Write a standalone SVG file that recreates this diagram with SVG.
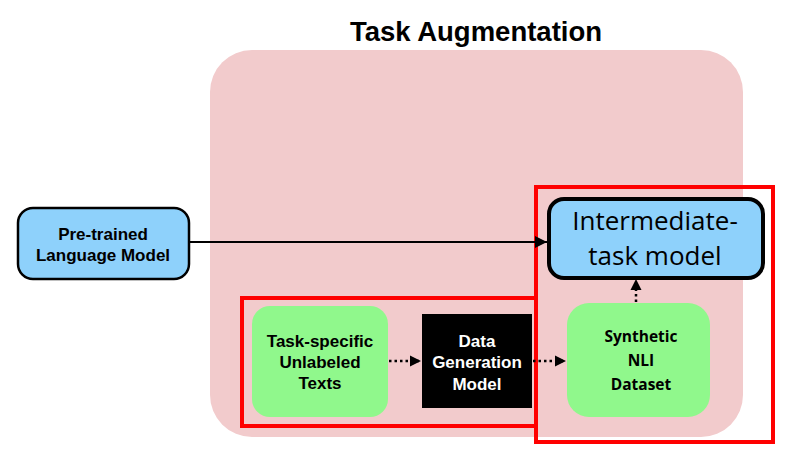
<svg xmlns="http://www.w3.org/2000/svg" width="791" height="453" viewBox="0 0 791 453">
<style>
.sans{font-family:"Liberation Sans",Arial,sans-serif}
.node-t{font-family:"Liberation Sans",Arial,sans-serif;font-size:17px;font-weight:bold;text-anchor:middle}
.cal{font-family:"Open Sans","Liberation Sans",sans-serif;text-anchor:middle}
.green{fill:#90f88c}
.blue{fill:#8ed1fb;stroke:#000}
.redbox{fill:none;stroke:#ff0000;stroke-width:4}
.solid{stroke:#000;stroke-width:2;fill:none}
.dot{stroke:#000;stroke-width:2.5;stroke-dasharray:2.5 3;fill:none}
</style>
<defs>
<marker id="ah" viewBox="0 0 10 10" refX="10" refY="5" markerWidth="6" markerHeight="6" orient="auto" markerUnits="strokeWidth">
<path d="M0,0 L10,5 L0,10 z" fill="#000"/>
</marker>
<marker id="ahs" viewBox="0 0 10 10" refX="10" refY="5" markerWidth="4.5" markerHeight="4.5" orient="auto" markerUnits="strokeWidth">
<path d="M0,0 L10,5 L0,10 z" fill="#000"/>
</marker>
</defs>
<rect width="791" height="453" fill="#fff"/>
<g id="task-augmentation">
<rect x="210" y="50" width="533" height="387" rx="42" fill="#f2cbcc"/>
<text x="476" y="41" class="sans" font-size="27.5" font-weight="bold" text-anchor="middle">Task Augmentation</text>
</g>
<g id="pretrained">
<rect x="18" y="208" width="171" height="71" rx="15" class="blue" stroke-width="2.5"/>
<text class="node-t"><tspan x="103" y="240">Pre-trained</tspan><tspan x="103" y="261">Language Model</tspan></text>
</g>
<g id="intermediate">
<rect x="549" y="199" width="214" height="79" rx="15" class="blue" stroke-width="4"/>
<text class="cal" font-size="26"><tspan x="655" y="230">Intermediate-</tspan><tspan x="655" y="265">task model</tspan></text>
</g>
<g id="unlabeled">
<rect x="252" y="306" width="136" height="111" rx="18" class="green"/>
<text class="node-t"><tspan x="320" y="347">Task-specific</tspan><tspan x="320" y="368">Unlabeled</tspan><tspan x="320" y="389">Texts</tspan></text>
</g>
<g id="datagen">
<rect x="422" y="314" width="110" height="94" fill="#000"/>
<text class="node-t" fill="#fff"><tspan x="477" y="347">Data</tspan><tspan x="477" y="368">Generation</tspan><tspan x="477" y="390">Model</tspan></text>
</g>
<g id="synthetic">
<rect x="567" y="303" width="143" height="114" rx="22" class="green"/>
<text class="cal" font-size="15.5" font-weight="bold"><tspan x="641" y="342">Synthetic</tspan><tspan x="641" y="366">NLI</tspan><tspan x="641" y="390">Dataset</tspan></text>
</g>
<g id="highlights">
<rect x="242" y="298" width="294" height="128" class="redbox"/>
<rect x="536" y="187" width="237" height="255" class="redbox"/>
</g>
<g id="connectors">
<path d="M189,242 H547" class="solid" marker-end="url(#ah)"/>
<path d="M389,361 H421" class="dot" marker-end="url(#ahs)"/>
<path d="M533,361 H566" class="dot" marker-end="url(#ahs)"/>
<path d="M636,302 V279" class="dot" marker-end="url(#ahs)"/>
</g>
</svg>
